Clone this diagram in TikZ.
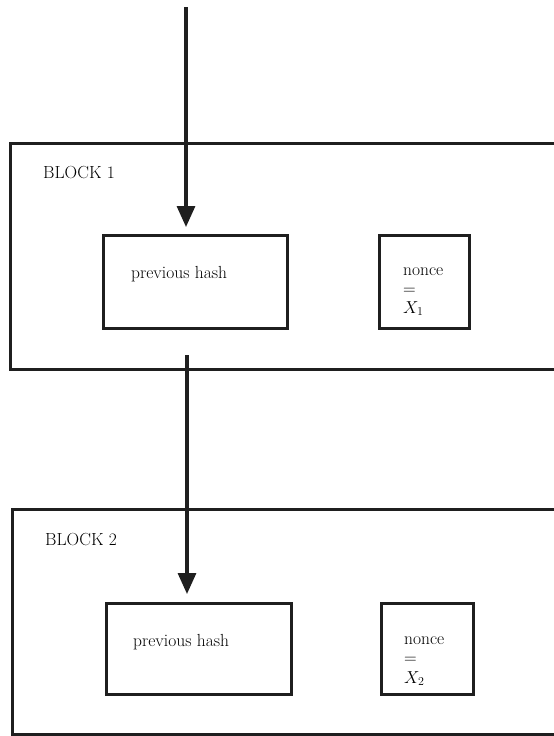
\documentclass[tikz,border=0pt]{standalone}
\usetikzlibrary{arrows.meta}
\begin{document}
\begin{tikzpicture}[x=1pt,y=-1pt,
  frame/.style={line width=3pt,line join=miter,draw=black!88},
  innerbox/.style={draw=black!88,line width=3.2pt,minimum width=#1,inner sep=0pt,anchor=north west},
  innerbox/.default=185pt,
  link/.style={draw=black!88,fill=black!88,line width=3.2pt,-{Triangle[width=18pt,length=21pt]}},
  txt/.style={anchor=base west,inner sep=0pt,text=black,font=\fontsize{17.5}{20}\selectfont}]
\useasboundingbox (0,0) rectangle (554,736);
% block 1
\draw[frame] (560,143) -- (10,143) -- (10,369) -- (560,369);
\node[txt] (b1) at (43,178) {BLOCK 1};
\node[innerbox=184pt,minimum height=93pt] (ph1) at (102,234) {};
\node[innerbox=90pt,minimum height=93pt] (n1) at (378,234) {};
\node[txt] (ph1t) at (131,278) {previous hash};
\node[txt] (n1a) at (403,275) {nonce};
\node[txt] (n1b) at (403,294) {=};
\node[txt] (n1c) at (403,313) {$X_1$};
% block 2
\draw[frame] (560,509) -- (12.5,509) -- (12.5,734.5) -- (560,734.5);
\node[txt] (b2) at (45,545) {BLOCK 2};
\node[innerbox=185pt,minimum height=91pt] (ph2) at (105,602) {};
\node[innerbox=92pt,minimum height=91pt] (n2) at (380,602) {};
\node[txt] (ph2t) at (133,646) {previous hash};
\node[txt] (n2a) at (404,644) {nonce};
\node[txt] (n2b) at (404,663) {=};
\node[txt] (n2c) at (404,683) {$X_2$};
% arrows
\coordinate (s1) at (186,7);
\coordinate (e1) at (186,227);
\coordinate (s2) at (187,355);
\coordinate (e2) at (187,594);
\draw[link] (s1) -- (e1);
\draw[link] (s2) -- (e2);
\end{tikzpicture}
\end{document}
